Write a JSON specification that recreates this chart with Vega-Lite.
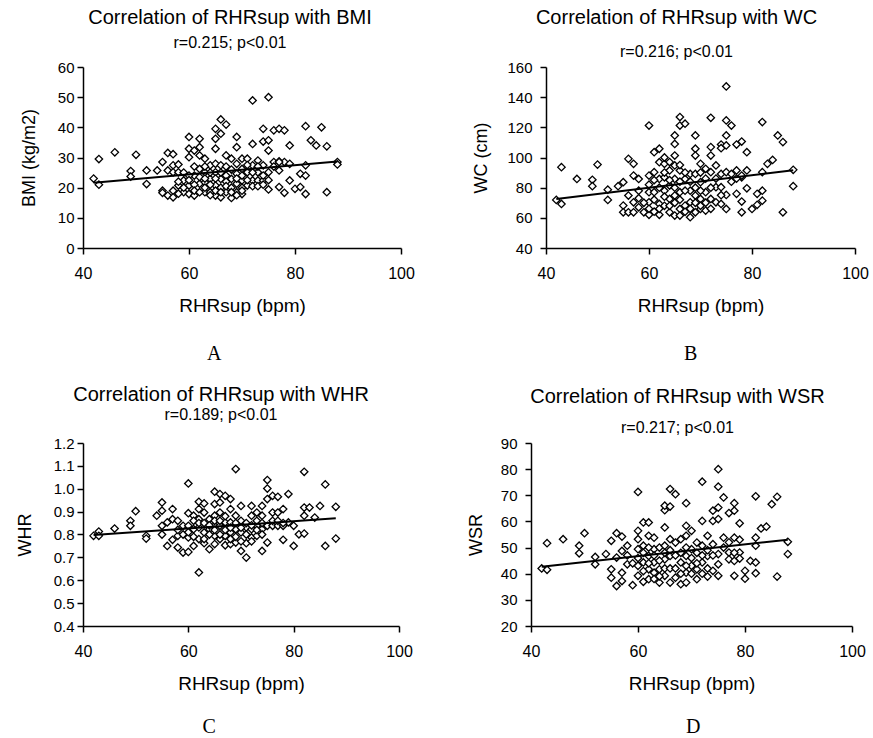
{
  "$schema": "https://vega.github.io/schema/vega-lite/v6.json",
  "background": "white",
  "padding": {"left": 16, "top": 8, "right": 0, "bottom": 0},
  "config": {
    "view": {"stroke": null},
    "font": "Liberation Sans",
    "axis": {
      "grid": false,
      "domainColor": "black",
      "domainWidth": 1.5,
      "tickColor": "black",
      "tickWidth": 1.5,
      "tickSize": 6,
      "labelColor": "black",
      "labelFont": "Liberation Sans",
      "labelFontSize": 15,
      "labelOverlap": false,
      "labelFlush": false,
      "labelBound": false,
      "titleColor": "black",
      "titleFont": "Liberation Sans",
      "titleFontSize": 18,
      "titleFontWeight": "normal"
    },
    "axisX": {"labelPadding": 11, "titlePadding": 15, "titleFontSize": 19, "labelFontSize": 16},
    "axisY": {"labelPadding": 3, "titlePadding": 19},
    "title": {
      "font": "Liberation Sans",
      "fontSize": 20,
      "fontWeight": "normal",
      "color": "black",
      "subtitleFont": "Liberation Sans",
      "subtitleFontSize": 16,
      "subtitleColor": "black"
    }
  },
  "datasets": {
    "bmi": [
      {"x":42,"y":23},{"x":43,"y":29.5},{"x":43,"y":21},{"x":46,"y":31.7},{"x":49,"y":25.5},{"x":49,"y":23.7},{"x":50,"y":30.9},{"x":52,"y":25.7},{"x":52,"y":21.2},{"x":54,"y":25.7},
      {"x":55,"y":28.5},{"x":55,"y":19},{"x":55,"y":18.3},{"x":56,"y":31.5},{"x":56,"y":25.7},{"x":56,"y":17.4},{"x":57,"y":31.1},{"x":57,"y":27.4},{"x":57,"y":25.1},{"x":57,"y":19},{"x":57,"y":16.8},
      {"x":58,"y":27.7},{"x":58,"y":25.1},{"x":58,"y":20.7},{"x":59,"y":22.4},{"x":59,"y":18.5},{"x":60,"y":36.8},{"x":60,"y":32.9},{"x":60,"y":30.1},{"x":60,"y":20.7},{"x":60,"y":17.9},
      {"x":61,"y":32.3},{"x":61,"y":24},{"x":61,"y":17.4},{"x":62,"y":36.2},{"x":62,"y":33.4},{"x":62,"y":30.7},{"x":62,"y":26.2},{"x":62,"y":21.3},{"x":63,"y":29.6},{"x":63,"y":25.1},{"x":63,"y":21.8},{"x":63,"y":18.5},
      {"x":64,"y":27.4},{"x":64,"y":22.9},{"x":64,"y":18.5},{"x":65,"y":39.5},{"x":65,"y":36.2},{"x":65,"y":32.9},{"x":65,"y":27.9},{"x":65,"y":25.1},{"x":65,"y":20.7},{"x":65,"y":17.4},
      {"x":66,"y":42.6},{"x":66,"y":37.9},{"x":66,"y":27.4},{"x":66,"y":22.9},{"x":66,"y":16.8},{"x":67,"y":40.9},{"x":67,"y":30.7},{"x":67,"y":24},{"x":67,"y":18.5},{"x":68,"y":29.6},{"x":68,"y":22.9},{"x":68,"y":16.6},
      {"x":69,"y":36.8},{"x":69,"y":33.4},{"x":69,"y":27.9},{"x":69,"y":24.6},{"x":69,"y":21.3},{"x":69,"y":18.5},{"x":70,"y":29.6},{"x":70,"y":26.2},{"x":70,"y":22.4},{"x":70,"y":17.9},
      {"x":71,"y":29.6},{"x":71,"y":25.1},{"x":71,"y":20.7},{"x":72,"y":48.9},{"x":72,"y":34.5},{"x":72,"y":27.4},{"x":72,"y":22.4},{"x":73,"y":29},{"x":73,"y":25.1},{"x":73,"y":22.4},
      {"x":74,"y":39.5},{"x":74,"y":35.3},{"x":74,"y":27.4},{"x":74,"y":22.4},{"x":75,"y":50},{"x":75,"y":35.7},{"x":75,"y":32.3},{"x":75,"y":25.1},{"x":75,"y":19.4},{"x":76,"y":39},{"x":76,"y":28.5},
      {"x":77,"y":39.5},{"x":77,"y":28.7},{"x":77,"y":25.7},{"x":77,"y":20.2},{"x":78,"y":39},{"x":78,"y":28.5},{"x":78,"y":18.3},{"x":79,"y":34},{"x":79,"y":27.9},{"x":79,"y":22.4},
      {"x":80,"y":19.6},{"x":81,"y":20.2},{"x":81,"y":24.6},{"x":82,"y":40.4},{"x":82,"y":27.4},{"x":82,"y":24},{"x":82,"y":17.9},{"x":83,"y":35.7},{"x":84,"y":34},{"x":85,"y":40},{"x":86,"y":33.7},{"x":86,"y":18.5},{"x":88,"y":28.5},{"x":88,"y":27.7},
      {"x":58,"y":22},{"x":58,"y":18},{"x":59,"y":25},{"x":59,"y":20},{"x":60,"y":24},{"x":60,"y":22.5},{"x":61,"y":21},{"x":61,"y":27},{"x":61,"y":19},{"x":62,"y":23.5},{"x":62,"y":18.5},
      {"x":63,"y":27},{"x":63,"y":23},{"x":63,"y":20},{"x":64,"y":25},{"x":64,"y":21},{"x":64,"y":17.5},{"x":65,"y":23},{"x":65,"y":19},{"x":66,"y":25},{"x":66,"y":20},{"x":66,"y":18.5},
      {"x":67,"y":27},{"x":67,"y":22},{"x":67,"y":20.5},{"x":68,"y":26},{"x":68,"y":20},{"x":68,"y":18.5},{"x":69,"y":23},{"x":69,"y":17.5},{"x":70,"y":24},{"x":70,"y":20},{"x":70,"y":19},
      {"x":71,"y":22.5},{"x":71,"y":27.5},{"x":72,"y":20.5},{"x":72,"y":25},{"x":73,"y":20.5},{"x":73,"y":27},{"x":74,"y":24},{"x":74,"y":21},{"x":75,"y":22.5},{"x":76,"y":27},{"x":77,"y":28.5}
    ],
    "wc": [
      {"x":42,"y":71.9},{"x":43,"y":69.2},{"x":43,"y":93.6},{"x":46,"y":85.8},{"x":49,"y":85.2},{"x":49,"y":81},{"x":50,"y":95.3},{"x":52,"y":78.7},{"x":52,"y":71.9},{"x":54,"y":81},
      {"x":55,"y":83.6},{"x":55,"y":68.1},{"x":55,"y":63.7},{"x":56,"y":99.1},{"x":56,"y":74.8},{"x":56,"y":63.7},{"x":57,"y":95.8},{"x":57,"y":88},{"x":57,"y":70.3},{"x":57,"y":63.7},
      {"x":58,"y":85.8},{"x":58,"y":73},{"x":58,"y":67},{"x":59,"y":63.7},{"x":60,"y":121.2},{"x":60,"y":88},{"x":60,"y":77},{"x":60,"y":70.3},{"x":60,"y":62},
      {"x":61,"y":103.5},{"x":61,"y":90.3},{"x":61,"y":77},{"x":61,"y":64.1},{"x":62,"y":105.8},{"x":62,"y":96.9},{"x":62,"y":85.8},{"x":62,"y":69.2},{"x":62,"y":62},
      {"x":63,"y":95.8},{"x":63,"y":86.9},{"x":63,"y":78},{"x":63,"y":68},{"x":64,"y":91.4},{"x":64,"y":81.4},{"x":64,"y":72.5},{"x":64,"y":63.7},
      {"x":65,"y":114.6},{"x":65,"y":109},{"x":65,"y":101.3},{"x":65,"y":94.7},{"x":65,"y":85.8},{"x":65,"y":74.8},{"x":65,"y":61.5},
      {"x":66,"y":126.8},{"x":66,"y":121.2},{"x":66,"y":91.4},{"x":66,"y":77},{"x":66,"y":65.9},{"x":66,"y":61.5},{"x":67,"y":122.4},{"x":67,"y":85.8},{"x":67,"y":68.1},
      {"x":68,"y":89.1},{"x":68,"y":78},{"x":68,"y":70.3},{"x":68,"y":60.4},{"x":69,"y":114.6},{"x":69,"y":105.8},{"x":69,"y":101.3},{"x":69,"y":89.1},{"x":69,"y":74.8},{"x":69,"y":63.7},
      {"x":70,"y":95.8},{"x":70,"y":83.6},{"x":70,"y":72.5},{"x":70,"y":65.9},{"x":71,"y":92.5},{"x":71,"y":77},{"x":71,"y":64.8},
      {"x":72,"y":126.3},{"x":72,"y":106.9},{"x":72,"y":101.3},{"x":72,"y":90.3},{"x":72,"y":72.5},{"x":73,"y":94.7},{"x":73,"y":80.3},{"x":73,"y":70.3},
      {"x":74,"y":108.6},{"x":74,"y":106.2},{"x":74,"y":89.1},{"x":74,"y":80.3},{"x":74,"y":69.2},
      {"x":75,"y":147.1},{"x":75,"y":124.6},{"x":75,"y":114.6},{"x":75,"y":108},{"x":75,"y":90.3},{"x":75,"y":75.2},{"x":75,"y":65.9},
      {"x":76,"y":121.2},{"x":76,"y":89.1},{"x":77,"y":108.6},{"x":77,"y":91.4},{"x":77,"y":75.9},{"x":78,"y":110.6},{"x":78,"y":86.9},{"x":78,"y":70.8},{"x":78,"y":63.7},
      {"x":79,"y":103.5},{"x":79,"y":91.4},{"x":79,"y":79.6},{"x":80,"y":65.9},{"x":81,"y":68.6},{"x":81,"y":75.9},{"x":82,"y":123.5},{"x":82,"y":90.3},{"x":82,"y":78},{"x":82,"y":71.4},
      {"x":83,"y":95.8},{"x":84,"y":98.4},{"x":85,"y":114.6},{"x":86,"y":110.2},{"x":86,"y":63.7},{"x":88,"y":91.8},{"x":88,"y":81},
      {"x":58,"y":78},{"x":59,"y":70},{"x":60,"y":82},{"x":60,"y":66},{"x":61,"y":85},{"x":61,"y":72},{"x":62,"y":80},{"x":62,"y":66},{"x":63,"y":74},{"x":63,"y":90},{"x":64,"y":68},{"x":64,"y":85},
      {"x":65,"y":80},{"x":65,"y":70},{"x":66,"y":84},{"x":66,"y":72},{"x":67,"y":78},{"x":67,"y":64},{"x":68,"y":84},{"x":68,"y":66},{"x":69,"y":80},{"x":69,"y":70},{"x":70,"y":78},{"x":70,"y":68},
      {"x":71,"y":86},{"x":71,"y":70},{"x":72,"y":80},{"x":72,"y":66},{"x":73,"y":86},{"x":74,"y":75},{"x":76,"y":84},{"x":77,"y":86},{"x":78,"y":88},{"x":66,"y":95},{"x":63,"y":100},{"x":64,"y":97},{"x":67,"y":90},{"x":70,"y":90}
    ],
    "whr": [
      {"x":42,"y":0.794},{"x":43,"y":0.813},{"x":43,"y":0.794},{"x":46,"y":0.826},{"x":49,"y":0.86},{"x":49,"y":0.838},{"x":50,"y":0.902},{"x":52,"y":0.794},{"x":52,"y":0.782},{"x":54,"y":0.882},
      {"x":55,"y":0.94},{"x":55,"y":0.904},{"x":55,"y":0.838},{"x":55,"y":0.8},{"x":56,"y":0.853},{"x":56,"y":0.75},{"x":57,"y":0.911},{"x":57,"y":0.867},{"x":57,"y":0.777},
      {"x":58,"y":0.86},{"x":58,"y":0.794},{"x":58,"y":0.743},{"x":59,"y":0.838},{"x":59,"y":0.721},{"x":60,"y":1.023},{"x":60,"y":0.893},{"x":60,"y":0.838},{"x":60,"y":0.787},{"x":60,"y":0.724},
      {"x":61,"y":0.882},{"x":61,"y":0.823},{"x":61,"y":0.75},{"x":62,"y":0.943},{"x":62,"y":0.911},{"x":62,"y":0.867},{"x":62,"y":0.831},{"x":62,"y":0.78},{"x":62,"y":0.634},
      {"x":63,"y":0.936},{"x":63,"y":0.896},{"x":63,"y":0.809},{"x":63,"y":0.762},{"x":64,"y":0.867},{"x":64,"y":0.823},{"x":64,"y":0.736},
      {"x":65,"y":0.987},{"x":65,"y":0.933},{"x":65,"y":0.882},{"x":65,"y":0.838},{"x":65,"y":0.794},{"x":65,"y":0.758},{"x":66,"y":0.977},{"x":66,"y":0.94},{"x":66,"y":0.896},{"x":66,"y":0.838},{"x":66,"y":0.78},
      {"x":67,"y":0.969},{"x":67,"y":0.853},{"x":67,"y":0.794},{"x":67,"y":0.753},{"x":68,"y":0.955},{"x":68,"y":0.911},{"x":68,"y":0.853},{"x":68,"y":0.809},{"x":68,"y":0.758},
      {"x":69,"y":1.086},{"x":69,"y":0.882},{"x":69,"y":0.823},{"x":69,"y":0.765},{"x":70,"y":0.925},{"x":70,"y":0.86},{"x":70,"y":0.809},{"x":70,"y":0.728},{"x":71,"y":0.831},{"x":71,"y":0.762},{"x":71,"y":0.699},
      {"x":72,"y":0.925},{"x":72,"y":0.882},{"x":72,"y":0.823},{"x":72,"y":0.787},{"x":73,"y":0.896},{"x":73,"y":0.838},{"x":73,"y":0.794},{"x":74,"y":0.925},{"x":74,"y":0.882},{"x":74,"y":0.823},{"x":74,"y":0.728},
      {"x":75,"y":1.038},{"x":75,"y":1.001},{"x":75,"y":0.955},{"x":75,"y":0.838},{"x":75,"y":0.765},{"x":76,"y":0.969},{"x":76,"y":0.896},{"x":76,"y":0.838},{"x":77,"y":0.965},{"x":77,"y":0.896},{"x":77,"y":0.838},
      {"x":78,"y":0.911},{"x":78,"y":0.838},{"x":78,"y":0.777},{"x":79,"y":0.977},{"x":79,"y":0.853},{"x":80,"y":0.838},{"x":80,"y":0.75},{"x":81,"y":0.801},
      {"x":82,"y":1.074},{"x":82,"y":0.918},{"x":82,"y":0.882},{"x":82,"y":0.804},{"x":83,"y":0.918},{"x":84,"y":0.874},{"x":85,"y":0.925},{"x":86,"y":1.019},{"x":86,"y":0.75},{"x":88,"y":0.921},{"x":88,"y":0.782},
      {"x":58,"y":0.82},{"x":59,"y":0.80},{"x":60,"y":0.81},{"x":61,"y":0.86},{"x":61,"y":0.79},{"x":62,"y":0.85},{"x":63,"y":0.85},{"x":63,"y":0.78},{"x":64,"y":0.84},{"x":64,"y":0.80},
      {"x":65,"y":0.86},{"x":65,"y":0.82},{"x":66,"y":0.86},{"x":66,"y":0.80},{"x":67,"y":0.82},{"x":67,"y":0.88},{"x":68,"y":0.83},{"x":68,"y":0.78},{"x":69,"y":0.85},{"x":69,"y":0.79},
      {"x":70,"y":0.83},{"x":70,"y":0.77},{"x":71,"y":0.85},{"x":71,"y":0.80},{"x":72,"y":0.84},{"x":72,"y":0.77},{"x":73,"y":0.86},{"x":73,"y":0.82},{"x":74,"y":0.85},{"x":74,"y":0.80},{"x":76,"y":0.86},{"x":77,"y":0.86},{"x":78,"y":0.85}
    ],
    "wsr": [
      {"x":42,"y":42},{"x":43,"y":41.5},{"x":43,"y":51.7},{"x":46,"y":53.2},{"x":49,"y":50.7},{"x":49,"y":47.8},{"x":50,"y":55.5},{"x":52,"y":46.4},{"x":52,"y":43.6},{"x":54,"y":47.5},
      {"x":55,"y":52.6},{"x":55,"y":41.7},{"x":55,"y":38.5},{"x":56,"y":55.5},{"x":56,"y":46.2},{"x":56,"y":35.3},{"x":57,"y":54.2},{"x":57,"y":48.7},{"x":57,"y":40.4},{"x":57,"y":37.2},
      {"x":58,"y":50.7},{"x":58,"y":43.6},{"x":59,"y":35.6},{"x":60,"y":71.3},{"x":60,"y":56.4},{"x":60,"y":53.2},{"x":60,"y":49.4},{"x":60,"y":43},{"x":60,"y":39.2},
      {"x":61,"y":59.6},{"x":61,"y":50.7},{"x":61,"y":44.3},{"x":61,"y":36.9},{"x":62,"y":59.6},{"x":62,"y":54.5},{"x":62,"y":46.8},{"x":62,"y":41.7},{"x":62,"y":37.9},
      {"x":63,"y":53.8},{"x":63,"y":49.4},{"x":63,"y":44.3},{"x":63,"y":40.4},{"x":64,"y":50},{"x":64,"y":41.7},{"x":64,"y":36.6},
      {"x":65,"y":64.3},{"x":65,"y":66},{"x":65,"y":57.7},{"x":65,"y":50.7},{"x":65,"y":45.5},{"x":65,"y":39.2},{"x":66,"y":72.4},{"x":66,"y":65.7},{"x":66,"y":53.2},{"x":66,"y":46.8},{"x":66,"y":36.6},
      {"x":67,"y":70.4},{"x":67,"y":51.9},{"x":67,"y":38.5},{"x":68,"y":53.2},{"x":68,"y":44.3},{"x":68,"y":36},
      {"x":69,"y":67},{"x":69,"y":58.3},{"x":69,"y":54.5},{"x":69,"y":46.8},{"x":69,"y":40.4},{"x":69,"y":36.6},{"x":70,"y":56.4},{"x":70,"y":49.4},{"x":70,"y":43},
      {"x":71,"y":51.9},{"x":71,"y":41.7},{"x":71,"y":37.9},{"x":72,"y":75.2},{"x":72,"y":60.2},{"x":72,"y":50.7},{"x":72,"y":44.3},{"x":73,"y":54.5},{"x":73,"y":46.8},{"x":73,"y":38.9},
      {"x":74,"y":64.1},{"x":74,"y":60.2},{"x":74,"y":51.3},{"x":74,"y":41.1},{"x":75,"y":80},{"x":75,"y":73.3},{"x":75,"y":65.3},{"x":75,"y":60.9},{"x":75,"y":47.5},{"x":75,"y":43.6},{"x":75,"y":39.2},
      {"x":76,"y":69.2},{"x":76,"y":53.8},{"x":77,"y":63.2},{"x":77,"y":48.1},{"x":77,"y":45.5},{"x":78,"y":67},{"x":78,"y":64.1},{"x":78,"y":53.8},{"x":78,"y":44.9},{"x":78,"y":39.2},
      {"x":79,"y":59.3},{"x":79,"y":53},{"x":79,"y":48.1},{"x":79,"y":45.8},{"x":80,"y":41.1},{"x":80,"y":38.1},{"x":81,"y":44.9},
      {"x":82,"y":69.6},{"x":82,"y":53.8},{"x":82,"y":50.7},{"x":82,"y":44.3},{"x":82,"y":40.2},{"x":83,"y":57.3},{"x":84,"y":58},{"x":85,"y":66.6},{"x":86,"y":69.4},{"x":86,"y":38.9},{"x":88,"y":52.2},{"x":88,"y":47.5},
      {"x":58,"y":47},{"x":59,"y":44},{"x":60,"y":46},{"x":61,"y":48},{"x":61,"y":41},{"x":62,"y":50},{"x":62,"y":44},{"x":63,"y":47},{"x":63,"y":38},{"x":64,"y":45},{"x":64,"y":39},
      {"x":65,"y":48},{"x":65,"y":42},{"x":66,"y":49},{"x":66,"y":42},{"x":67,"y":47},{"x":67,"y":42},{"x":68,"y":48},{"x":68,"y":40},{"x":69,"y":50},{"x":69,"y":43},{"x":70,"y":46},{"x":70,"y":40},
      {"x":71,"y":48},{"x":71,"y":44},{"x":72,"y":47},{"x":72,"y":40},{"x":73,"y":49},{"x":73,"y":42},{"x":74,"y":47},{"x":76,"y":50},{"x":77,"y":52},{"x":78,"y":48}
    ],
    "bmiLine": [{"x":42,"y":21.6},{"x":88,"y":28.7}],
    "wcLine": [{"x":42,"y":72.5},{"x":88,"y":91.5}],
    "whrLine": [{"x":42,"y":0.798},{"x":88,"y":0.871}],
    "wsrLine": [{"x":42,"y":42.7},{"x":88,"y":53}]
  },
  "spacing": 21,
  "vconcat": [
    {
      "spacing": 57,
      "hconcat": [
        {
          "title": {"text": "A", "orient": "bottom", "anchor": "middle", "font": "Liberation Serif", "fontSize": 20, "offset": 29, "dx": -3},
          "vconcat": [
            {
              "width": 318, "height": 181,
              "title": {"text": "Correlation of RHRsup with BMI", "subtitle": "r=0.215; p<0.01", "offset": 9, "subtitlePadding": 7, "dx": -12},
              "encoding": {
                "x": {"field": "x", "type": "quantitative", "scale": {"domain": [40, 100], "nice": false, "zero": false}, "axis": {"values": [40, 60, 80, 100], "labelOverlap": false, "title": "RHRsup (bpm)"}},
                "y": {"field": "y", "type": "quantitative", "scale": {"domain": [0, 60], "nice": false}, "axis": {"values": [0, 10, 20, 30, 40, 50, 60], "tickCount": 7, "labelOverlap": false, "title": "BMI (kg/m2)"}}
              },
              "layer": [
                {"data": {"name": "bmi"}, "mark": {"type": "point", "shape": "diamond", "filled": true, "fill": "white", "stroke": "black", "strokeWidth": 1.3, "size": 55, "opacity": 1}},
                {"data": {"name": "bmiLine"}, "mark": {"type": "line", "color": "black", "strokeWidth": 2}}
              ]
            }
          ]
        },
        {
          "title": {"text": "B", "orient": "bottom", "anchor": "middle", "font": "Liberation Serif", "fontSize": 20, "offset": 29, "dx": 20},
          "vconcat": [
            {
              "width": 309, "height": 181,
              "title": {"text": "Correlation of RHRsup with WC", "subtitle": "r=0.216; p<0.01", "offset": 0, "subtitlePadding": 16, "dx": -24},
              "encoding": {
                "x": {"field": "x", "type": "quantitative", "scale": {"domain": [40, 100], "nice": false, "zero": false}, "axis": {"values": [40, 60, 80, 100], "labelOverlap": false, "title": "RHRsup (bpm)"}},
                "y": {"field": "y", "type": "quantitative", "scale": {"domain": [40, 160], "nice": false, "zero": false}, "axis": {"values": [40, 60, 80, 100, 120, 140, 160], "tickCount": 7, "labelOverlap": false, "title": "WC (cm)", "labelPadding": 8, "titlePadding": 16}}
              },
              "layer": [
                {"data": {"name": "wc"}, "mark": {"type": "point", "shape": "diamond", "filled": true, "fill": "white", "stroke": "black", "strokeWidth": 1.3, "size": 55, "opacity": 1}},
                {"data": {"name": "wcLine"}, "mark": {"type": "line", "color": "black", "strokeWidth": 2}}
              ]
            }
          ]
        }
      ]
    },
    {
      "spacing": 54,
      "hconcat": [
        {
          "title": {"text": "C", "orient": "bottom", "anchor": "middle", "font": "Liberation Serif", "fontSize": 20, "offset": 24, "dx": -5},
          "vconcat": [
            {
              "width": 316, "height": 183,
              "title": {"text": "Correlation of RHRsup with WHR", "subtitle": "r=0.189; p<0.01", "offset": 13, "subtitlePadding": 2, "dx": -20},
              "encoding": {
                "x": {"field": "x", "type": "quantitative", "scale": {"domain": [40, 100], "nice": false, "zero": false}, "axis": {"values": [40, 60, 80, 100], "labelOverlap": false, "title": "RHRsup (bpm)"}},
                "y": {"field": "y", "type": "quantitative", "scale": {"domain": [0.4, 1.2], "nice": false, "zero": false}, "axis": {"values": [0.4, 0.5, 0.6, 0.7, 0.8, 0.9, 1.0, 1.1, 1.2], "tickCount": 9, "labelOverlap": false, "format": ".1f", "title": "WHR"}}
              },
              "layer": [
                {"data": {"name": "whr"}, "mark": {"type": "point", "shape": "diamond", "filled": true, "fill": "white", "stroke": "black", "strokeWidth": 1.3, "size": 55, "opacity": 1}},
                {"data": {"name": "whrLine"}, "mark": {"type": "line", "color": "black", "strokeWidth": 2}}
              ]
            }
          ]
        },
        {
          "title": {"text": "D", "orient": "bottom", "anchor": "middle", "font": "Liberation Serif", "fontSize": 20, "offset": 24, "dx": 27},
          "vconcat": [
            {
              "width": 321, "height": 183,
              "title": {"text": "Correlation of RHRsup with WSR", "subtitle": "r=0.217; p<0.01", "offset": 0, "subtitlePadding": 13, "dx": -14},
              "encoding": {
                "x": {"field": "x", "type": "quantitative", "scale": {"domain": [40, 100], "nice": false, "zero": false}, "axis": {"values": [40, 60, 80, 100], "labelOverlap": false, "title": "RHRsup (bpm)"}},
                "y": {"field": "y", "type": "quantitative", "scale": {"domain": [20, 90], "nice": false, "zero": false}, "axis": {"values": [20, 30, 40, 50, 60, 70, 80, 90], "tickCount": 8, "labelOverlap": false, "title": "WSR", "labelPadding": 8, "titlePadding": 15}}
              },
              "layer": [
                {"data": {"name": "wsr"}, "mark": {"type": "point", "shape": "diamond", "filled": true, "fill": "white", "stroke": "black", "strokeWidth": 1.3, "size": 55, "opacity": 1}},
                {"data": {"name": "wsrLine"}, "mark": {"type": "line", "color": "black", "strokeWidth": 2}}
              ]
            }
          ]
        }
      ]
    }
  ]
}
